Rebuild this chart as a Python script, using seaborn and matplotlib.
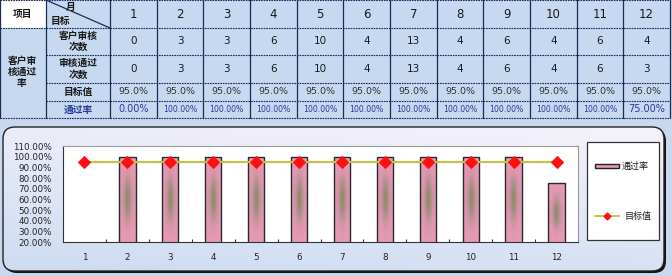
import numpy as np
import pandas as pd
import matplotlib
matplotlib.use("Agg")
import matplotlib.pyplot as plt
from matplotlib.patches import Rectangle, FancyBboxPatch
from matplotlib.colors import to_rgb
import seaborn as sns

# ---- data -------------------------------------------------------------
months = ["1", "2", "3", "4", "5", "6", "7", "8", "9", "10", "11", "12"]
audit_counts = [0, 3, 3, 6, 10, 4, 13, 4, 6, 4, 6, 4]
pass_counts = [0, 3, 3, 6, 10, 4, 13, 4, 6, 4, 6, 3]
target_pct = [95.0] * 12
pass_rate_pct = [0.0, 100.0, 100.0, 100.0, 100.0, 100.0, 100.0, 100.0, 100.0, 100.0, 100.0, 75.0]
y_ticks_pct = [20, 30, 40, 50, 60, 70, 80, 90, 100, 110]

sns.set_theme(style="white")
plt.rcParams["font.family"] = ["Noto Sans CJK SC", "DejaVu Sans"]

W, H = 672, 276
fig = plt.figure(figsize=(W / 100, H / 100), dpi=100)
fig.patch.set_facecolor("#c7d8ef")

# background layer in pixel coordinates
bg = fig.add_axes([0, 0, 1, 1])
bg.set_xlim(0, W)
bg.set_ylim(H, 0)
bg.axis("off")

TABLE_BLUE = "#c6d9f1"
LINE_NAVY = "#1c2a55"
TEXT_DARK = "#1a1a1a"
RATE_BLUE = "#2a3a9a"

# ---- table ------------------------------------------------------------
col_x = [0, 46, 110] + [110 + (i + 1) * (560 / 12) for i in range(12)]
row_y = [0, 28, 55, 83, 101, 118]

bg.add_patch(Rectangle((0, 0), col_x[-1], row_y[-1], facecolor=TABLE_BLUE, edgecolor="none", zorder=1))
bg.add_patch(Rectangle((0, 0), col_x[1], row_y[1], facecolor="white", edgecolor="none", zorder=1))

# grid lines
for x in col_x:
    bg.plot([x, x], [0, row_y[-1]], color=LINE_NAVY, lw=0.9, zorder=2)
for i, y in enumerate(row_y):
    x_start = 0 if i in (0, 1, len(row_y) - 1) else col_x[1]
    bg.plot([x_start, col_x[-1]], [y, y], color=LINE_NAVY, lw=0.8, ls=(0, (1.5, 0.8)), zorder=2)
# header diagonal
bg.plot([col_x[1], col_x[2]], [0, row_y[1]], color=LINE_NAVY, lw=0.9, zorder=2)

label_kw = dict(ha="center", va="center", fontsize=7.0, fontweight="bold", zorder=3)
bg.text(23, 14, "项目", color=TEXT_DARK, **label_kw)
bg.text(71, 7, "月", color=TEXT_DARK, **label_kw)
bg.text(60, 21, "目标", color=TEXT_DARK, **label_kw)
bg.text(22, 72, "客户审\n核通过\n率", color=TEXT_DARK, linespacing=1.15, **label_kw)
bg.text(78, 41.5, "客户审核\n次数", color=TEXT_DARK, linespacing=1.2, **label_kw)
bg.text(78, 69, "审核通过\n次数", color=TEXT_DARK, linespacing=1.2, **label_kw)
bg.text(78, 92, "目标值", color=TEXT_DARK, **label_kw)
bg.text(78, 110, "通过率", color=RATE_BLUE, **label_kw)

row_centers = [(row_y[i] + row_y[i + 1]) / 2 for i in range(5)]
for j in range(12):
    cx = (col_x[j + 2] + col_x[j + 3]) / 2
    bg.text(cx, row_centers[0], months[j], ha="center", va="center", fontsize=8.5, family="DejaVu Sans", color=TEXT_DARK, zorder=3)
    bg.text(cx, row_centers[1], str(audit_counts[j]), ha="center", va="center", fontsize=7.5, family="DejaVu Sans", color=TEXT_DARK, zorder=3)
    bg.text(cx, row_centers[2], str(pass_counts[j]), ha="center", va="center", fontsize=7.5, family="DejaVu Sans", color=TEXT_DARK, zorder=3)
    bg.text(cx, row_centers[3], f"{target_pct[j]:.1f}%", ha="center", va="center", fontsize=6.8, family="DejaVu Sans", color="#333333", zorder=3)
    rate_txt = f"{pass_rate_pct[j]:.2f}%"
    size = 5.6 if pass_rate_pct[j] >= 100 else 7.0
    bg.text(cx, row_centers[4], rate_txt, ha="center", va="center", fontsize=size, family="DejaVu Sans", color=RATE_BLUE, zorder=3)

# ---- chart panel ------------------------------------------------------
px0, py0, px1, py1 = 3, 127, 664, 271
shadow = FancyBboxPatch((px0 + 2, py0 + 2), px1 - px0, py1 - py0, boxstyle="round,pad=0,rounding_size=12",
                        facecolor="#111111", edgecolor="none", zorder=4)
bg.add_patch(shadow)
panel = FancyBboxPatch((px0, py0), px1 - px0, py1 - py0, boxstyle="round,pad=0,rounding_size=12",
                       facecolor="none", edgecolor="#222222", lw=1.0, zorder=6)
bg.add_patch(panel)
top_c = np.array(to_rgb("#f6f2fb"))
bot_c = np.array(to_rgb("#cddcf2"))
t = np.linspace(0, 1, 64)[:, None, None]
s = np.linspace(0, 1, 64)[None, :, None]
mix = np.clip(0.75 * t + 0.25 * (1 - s), 0, 1)
grad = top_c * (1 - mix) + bot_c * mix
im = bg.imshow(grad, extent=[px0, px1, py1, py0], aspect="auto", zorder=5, interpolation="bilinear")
clip_patch = FancyBboxPatch((px0, py0), px1 - px0, py1 - py0, boxstyle="round,pad=0,rounding_size=12",
                            transform=bg.transData, facecolor="none", edgecolor="none")
im.set_clip_path(clip_patch)
bg.set_xlim(0, W)
bg.set_ylim(H, 0)

# ---- bar + line chart -------------------------------------------------
ax_l, ax_r, ax_t, ax_b = 63, 578, 146, 242
ax = fig.add_axes([ax_l / W, (H - ax_b) / H, (ax_r - ax_l) / W, (ax_b - ax_t) / H])
ax.set_facecolor("white")

BAR_PINK = "#e89ab3"
LINE_OLIVE = "#c4c44c"
df = pd.DataFrame({"month": months, "rate": np.array(pass_rate_pct) / 100, "target": np.array(target_pct) / 100})

sns.barplot(data=df, x="month", y="rate", ax=ax, color=BAR_PINK, width=0.38,
            edgecolor="#2a2a2a", linewidth=1.0, saturation=1, zorder=2)

ymin, ymax = 0.2, 1.1
ax.set_ylim(ymin, ymax)
ax.set_xlim(-0.5, 11.5)

# soft shaded core inside each bar
pink = np.array(to_rgb(BAR_PINK))
halo = np.array(to_rgb("#a88a98"))
core = np.array(to_rgb("#8c8c58"))
for bar in list(ax.patches):
    x0, w, h = bar.get_x(), bar.get_width(), bar.get_height()
    vb = ymin
    if h <= vb:
        continue
    ny, nx = 90, 30
    yy = np.linspace(1, -1, ny)[:, None]
    xx = np.linspace(-1, 1, nx)[None, :]
    r2 = (xx / 0.9) ** 2 + (yy / 0.7) ** 2
    w_halo = 0.8 * np.exp(-r2 * 1.6)
    w_core = 0.85 * np.exp(-((xx / 0.35) ** 2 + (yy / 0.5) ** 2) * 1.4)
    img = pink * (1 - w_halo[..., None]) + halo * w_halo[..., None]
    img = img * (1 - w_core[..., None]) + core * w_core[..., None]
    bim = ax.imshow(img, extent=[x0, x0 + w, vb, h], aspect="auto", zorder=1.5, interpolation="bilinear")
    bim.set_clip_path(bar)
    bar.set_facecolor("none")

sns.lineplot(x=np.arange(12), y=df["target"], ax=ax, color=LINE_OLIVE, lw=1.6, marker="D",
             markersize=6.5, markerfacecolor="#ff1010", markeredgecolor="#ff1010", zorder=4)

ax.set_ylim(ymin, ymax)
ax.set_xlim(-0.5, 11.5)
ax.set_xlabel("")
ax.set_ylabel("")
ax.set_yticks(np.array(y_ticks_pct) / 100)
ax.set_yticklabels([f"{v:.2f}%" for v in y_ticks_pct], family="DejaVu Sans", fontsize=6.3, color="#222222")
ax.set_xticks(np.arange(12))
ax.set_xticklabels(months, family="DejaVu Sans", fontsize=6.3, color="#222222")
ax.tick_params(axis="x", length=0, pad=8)
ax.tick_params(axis="y", length=0, pad=8)
ax.set_xticks(np.arange(12) + 0.5, minor=True)
ax.tick_params(axis="x", which="minor", direction="in", length=2.5, width=0.8, color="#333333", bottom=True)
for sp in ax.spines.values():
    sp.set_color("#9a9a9a")
    sp.set_linewidth(0.8)
ax.spines["bottom"].set_color("#333333")
ax.spines["left"].set_color("#333333")
ax.set_zorder(7)

# ---- legend box -------------------------------------------------------
bg.add_patch(Rectangle((587, 142), 72, 98, facecolor="white", edgecolor="#333333", lw=0.9, zorder=8))
bg.add_patch(Rectangle((595, 164), 24, 4, facecolor=BAR_PINK, edgecolor="#222222", lw=1.0, zorder=9))
bg.text(622, 166, "通过率", ha="left", va="center", fontsize=6.5, color=TEXT_DARK, zorder=9)
bg.plot([595, 619], [216, 216], color=LINE_OLIVE, lw=1.4, zorder=9)
bg.plot([607], [216], marker="D", markersize=3.5, color="#ff1010", zorder=10)
bg.text(625, 216, "目标值", ha="left", va="center", fontsize=6.5, color=TEXT_DARK, zorder=9)
bg.set_zorder(0)

fig.savefig("out.png", dpi=100, facecolor=fig.get_facecolor())
